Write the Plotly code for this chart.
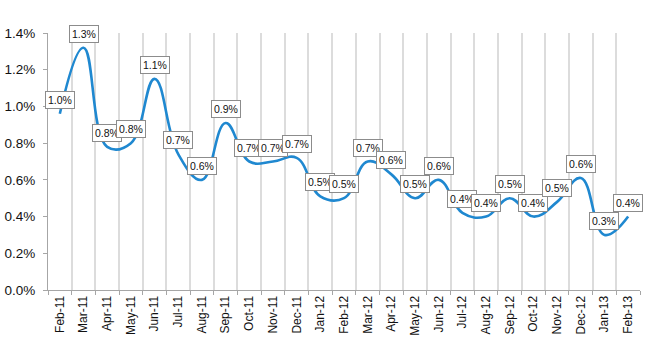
import plotly.graph_objects as go

months = ["Feb-11", "Mar-11", "Apr-11", "May-11", "Jun-11", "Jul-11", "Aug-11", "Sep-11",
          "Oct-11", "Nov-11", "Dec-11", "Jan-12", "Feb-12", "Mar-12", "Apr-12", "May-12",
          "Jun-12", "Jul-12", "Aug-12", "Sep-12", "Oct-12", "Nov-12", "Dec-12", "Jan-13", "Feb-13"]
values = [0.0096, 0.0132, 0.0078, 0.0080, 0.0115, 0.0074, 0.0060, 0.0091,
          0.0070, 0.0070, 0.0072, 0.0051, 0.0050, 0.0070, 0.0063, 0.0050,
          0.0060, 0.0042, 0.0040, 0.0050, 0.0040, 0.0048, 0.0061, 0.0030, 0.0040]
y_ticks = [0, 0.002, 0.004, 0.006, 0.008, 0.010, 0.012, 0.014]

fig = go.Figure()
fig.add_trace(go.Scatter(
    x=months, y=values, mode="lines",
    line=dict(color="#1f88d0", width=2.6, shape="spline", smoothing=1.2),
    hoverinfo="skip", showlegend=False,
))

for m, v in zip(months, values):
    fig.add_annotation(
        x=m, y=v, text=f"{v*100:.1f}%", showarrow=False, yshift=14,
        font=dict(family="Liberation Sans, Arial", size=10.5, color="#111111"),
        bgcolor="white", bordercolor="#8c8c8c", borderwidth=1, borderpad=2,
    )

fig.update_layout(
    width=650, height=350,
    margin=dict(l=48, r=10, t=33, b=60),
    paper_bgcolor="white", plot_bgcolor="white",
    font=dict(family="Liberation Sans, Arial", color="#222222"),
)
fig.update_xaxes(
    type="category", tickson="boundaries", range=[-0.5, 24.5],
    showgrid=True, gridcolor="#dcdcdc", gridwidth=1.5,
    showline=True, linecolor="#a6a6a6", linewidth=1,
    ticks="outside", ticklen=4, tickcolor="#a6a6a6",
    tickangle=-90, tickfont=dict(size=12, color="#111111"),
    automargin=False,
)
fig.update_yaxes(
    range=[0, 0.014], tickvals=y_ticks, tickformat=".1%",
    showgrid=False, zeroline=False,
    showline=True, linecolor="#a6a6a6", linewidth=1,
    ticks="outside", ticklen=4, tickcolor="#a6a6a6",
    ticklabelstandoff=5, automargin=False,
    tickfont=dict(size=13.5, color="#111111"),
)

fig.write_html("out.html")
